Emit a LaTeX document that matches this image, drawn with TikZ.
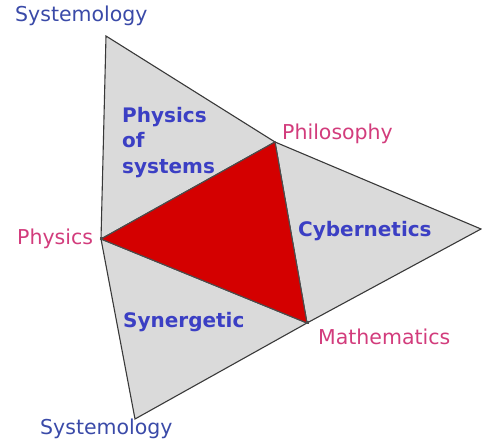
\documentclass[tikz,border=0pt]{standalone}
\usepackage{fontspec}
\setmainfont{DejaVu Sans}
\definecolor{sysblue}{HTML}{3A4AA8}
\definecolor{areablue}{HTML}{3B3FC4}
\definecolor{vpink}{HTML}{D23C7C}
\definecolor{trigray}{HTML}{DADADA}
\definecolor{corered}{HTML}{D40000}
\begin{document}
\begin{tikzpicture}[x=1pt,y=-1pt,
  sysl/.style={text=sysblue, font=\fontsize{20.5}{24}\selectfont, inner sep=0pt},
  vert/.style={text=vpink, font=\fontsize{20.5}{24}\selectfont, inner sep=0pt},
  area/.style={text=areablue, font=\bfseries\fontsize{20}{25.5}\selectfont, inner sep=0pt},
  tri/.style={fill=trigray, draw=gray!45!black, line width=1.1pt, line join=miter},
  core/.style={fill=corered, draw=black!70, line width=1.1pt},
  mark box/.style={fill=gray!60!black, minimum size=3pt, inner sep=0pt}]
\useasboundingbox (0,0) rectangle (482,443);
\coordinate (top) at (106,36);
\coordinate (phys) at (101,239);
\coordinate (phil) at (275,142);
\coordinate (math) at (307,323);
\coordinate (right) at (481,229);
\coordinate (bot) at (135,419);
\draw[tri] (top) -- (phil) -- (phys) -- cycle;
\draw[tri] (phil) -- (right) -- (math) -- cycle;
\draw[tri] (phys) -- (math) -- (bot) -- cycle;
\draw[core] (phys) -- (phil) -- (math) -- cycle;
\node[mark box] (pm) at (phys) {};
\node[mark box] (mm) at (math) {};
\node[sysl, anchor=base west] (s1) at (15,22) {Systemology};
\node[sysl, anchor=base west] (s2) at (40,435) {Systemology};
\node[vert, anchor=base west] (lphys) at (17,245) {Physics};
\node[vert, anchor=base west] (lphil) at (282,140) {Philosophy};
\node[vert, anchor=base west] (lmath) at (318,345) {Mathematics};
\node[area, anchor=north west, align=left] (pos) at (122,107) {Physics\\of\\systems};
\node[area, anchor=base west] (cyb) at (298,237) {Cybernetics};
\node[area, anchor=base west] (syn) at (123,328) {Synergetic};
\end{tikzpicture}
\end{document}
